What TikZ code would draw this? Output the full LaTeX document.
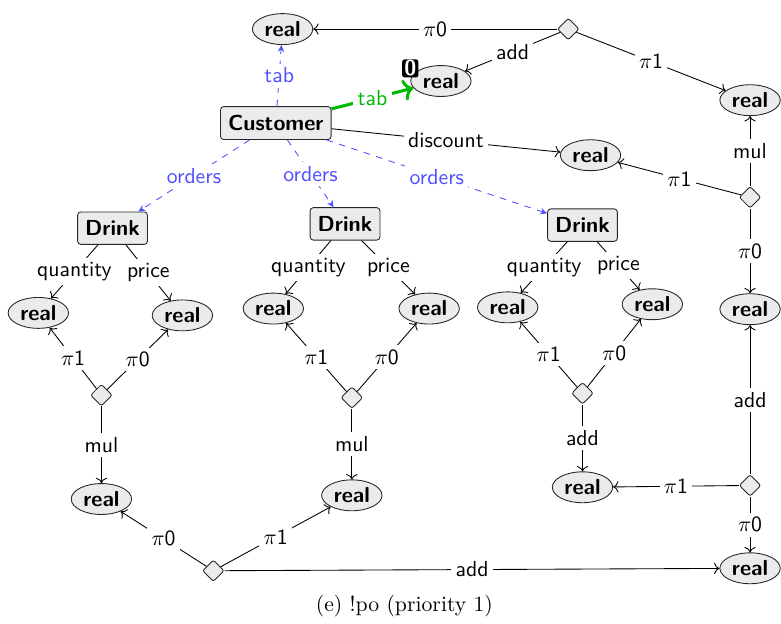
\documentclass[tikz,border=0pt]{standalone}
\usepackage{amsmath}
\usepackage{tikz}
\usetikzlibrary{arrows.meta,positioning,shapes.geometric}
\definecolor{typefill}{HTML}{EBEBEB}
\definecolor{refblue}{HTML}{4F4FFF}
\definecolor{keygreen}{HTML}{00B800}
\tikzset{
  cls/.style={draw=black!85, fill=typefill, rounded corners=1.5pt, font=\sffamily\bfseries, inner xsep=3.5pt, inner ysep=4pt},
  val/.style={ellipse, draw=black!85, fill=typefill, font=\sffamily\bfseries, inner sep=1.5pt},
  op/.style={diamond, draw=black!85, fill=typefill, rounded corners=1pt, minimum width=10pt, minimum height=10pt, inner sep=0pt},
  badge/.style={fill=black, text=white, rounded corners=1.2pt, font=\sffamily\bfseries, inner sep=0.5pt, minimum width=7.5pt, minimum height=8pt},
  attr/.style={->, draw=black},
  ref/.style={-{Stealth[length=3.2pt, width=3pt]}, dashed, draw=refblue},
  key/.style={->, line width=1.4pt, draw=keygreen},
  lbl/.style={font=\sffamily, fill=white, inner sep=2pt}
}

\begin{document}
\begin{tikzpicture}[node distance=10mm, on grid]
  \useasboundingbox (-44.6mm,19.9mm) rectangle (81.7mm,-81.0mm);
  % customer and its direct values
  \node[cls] (cust) {Customer};
  \node[val, above right=15.2mm and 1.1mm of cust] (tabreal) {real};
  \node[val, above right=6.8mm and 26.7mm of cust] (keyreal) {real};
  \node[op, right=46.2mm of tabreal] (pairtop) {};
  \node[val, below right=11.5mm and 29.4mm of pairtop] (prodreal) {real};
  \node[val, below right=5.2mm and 50.9mm of cust] (discreal) {real};
  \node[op, below=15.7mm of prodreal] (pairdisc) {};
  \node[val, below=18.1mm of pairdisc] (sumreal) {real};
  \node[op, below=28.5mm of sumreal] (pairsum) {};
  \node[val, below=13.4mm of pairsum] (totreal) {real};
  % drinks
  \node[cls, below left=17.0mm and 26.4mm of cust] (d1) {Drink};
  \node[cls, below right=16.3mm and 11.2mm of cust] (d2) {Drink};
  \node[cls, below right=16.5mm and 49.6mm of cust] (d3) {Drink};
  \node[val, below left=13.7mm and 12.0mm of d1] (q1) {real};
  \node[val, below right=14.1mm and 11.3mm of d1] (p1) {real};
  \node[val, below left=13.7mm and 11.6mm of d2] (q2) {real};
  \node[val, below right=13.7mm and 13.6mm of d2] (p2) {real};
  \node[val, below left=13.3mm and 12.1mm of d3] (q3) {real};
  \node[val, below right=12.8mm and 11.3mm of d3] (p3) {real};
  \node[op, below left=27.0mm and 1.8mm of d1] (o1) {};
  \node[op, below right=28.1mm and 1.1mm of d2] (o2) {};
  \node[op, below=27.2mm of d3] (o3) {};
  \node[val, below=16.8mm of o1] (r1) {real};
  \node[val, below=15.8mm of o2] (r2) {real};
  \node[val, below=15.2mm of o3] (r3) {real};
  \node[op, below right=11.6mm and 18.1mm of r1] (pairbot) {};
  \node[below right=5.7mm and 30.9mm of pairbot] (caption) {(e) !po (priority 1)};

  \draw[ref] (cust) -- node[lbl, text=refblue]{tab} (tabreal);
  \draw[key] (cust) -- node[lbl, text=keygreen]{tab} (keyreal);
  \node[badge, yshift=-1.5pt] (keytag) at (keyreal.west |- keyreal.north) {0};
  \draw[attr] (cust) -- node[lbl]{discount} (discreal);
  \draw[ref] (cust) -- node[lbl, text=refblue]{orders} (d1);
  \draw[ref] (cust) -- node[lbl, text=refblue]{orders} (d2);
  \draw[ref] (cust) -- node[lbl, text=refblue]{orders} (d3);
  \draw[attr] (pairtop) -- node[lbl]{$\pi$0} (tabreal);
  \draw[attr] (pairtop) -- node[lbl]{add} (keyreal);
  \draw[attr] (pairtop) -- node[lbl]{$\pi$1} (prodreal);
  \draw[attr] (pairdisc) -- node[lbl]{mul} (prodreal);
  \draw[attr] (pairdisc) -- node[lbl]{$\pi$1} (discreal);
  \draw[attr] (pairdisc) -- node[lbl]{$\pi$0} (sumreal);
  \draw[attr] (pairsum) -- node[lbl]{add} (sumreal);
  \draw[attr] (pairsum) -- node[lbl]{$\pi$1} (r3);
  \draw[attr] (pairsum) -- node[lbl]{$\pi$0} (totreal);
  % line items
  \draw[attr] (d1) -- node[lbl]{quantity} (q1);
  \draw[attr] (d1) -- node[lbl]{price} (p1);
  \draw[attr] (o1) -- node[lbl]{$\pi$1} (q1);
  \draw[attr] (o1) -- node[lbl]{$\pi$0} (p1);
  \draw[attr] (o1) -- node[lbl]{mul} (r1);
  \draw[attr] (d2) -- node[lbl]{quantity} (q2);
  \draw[attr] (d2) -- node[lbl]{price} (p2);
  \draw[attr] (o2) -- node[lbl]{$\pi$1} (q2);
  \draw[attr] (o2) -- node[lbl]{$\pi$0} (p2);
  \draw[attr] (o2) -- node[lbl]{mul} (r2);
  \draw[attr] (d3) -- node[lbl]{quantity} (q3);
  \draw[attr] (d3) -- node[lbl]{price} (p3);
  \draw[attr] (o3) -- node[lbl]{$\pi$1} (q3);
  \draw[attr] (o3) -- node[lbl]{$\pi$0} (p3);
  \draw[attr] (o3) -- node[lbl]{add} (r3);
  \draw[attr] (pairbot) -- node[lbl]{$\pi$0} (r1);
  \draw[attr] (pairbot) -- node[lbl]{$\pi$1} (r2);
  \draw[attr] (pairbot) -- node[lbl]{add} (totreal);
\end{tikzpicture}
\end{document}
